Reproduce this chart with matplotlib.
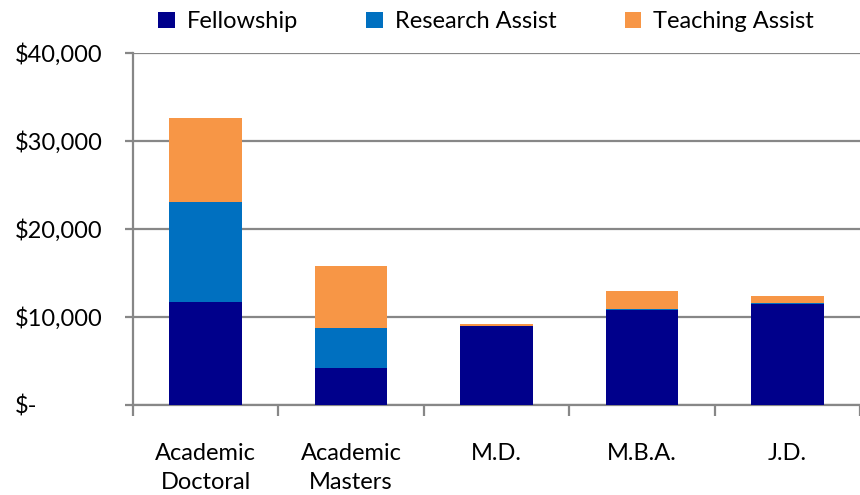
import numpy as np
import matplotlib
matplotlib.use("Agg")
import matplotlib.pyplot as plt
from matplotlib.ticker import FuncFormatter

categories = ["Academic\nDoctoral", "Academic\nMasters", "M.D.", "M.B.A.", "J.D."]
fellowship = [11700, 4200, 8940, 10770, 11450]
research_assist = [11350, 4500, 50, 190, 190]
teaching_assist = [9600, 7100, 260, 2050, 720]
series_names = ["Fellowship", "Research Assist", "Teaching Assist"]
colors = ["#00008B", "#0070C0", "#F79646"]
yticks = [0, 10000, 20000, 30000, 40000]

plt.rcParams['font.family'] = ['Lato', 'DejaVu Sans']

fig = plt.figure(figsize=(8.6, 4.95), dpi=100)
ax = fig.add_axes([133 / 860, 90 / 495, 727 / 860, 352 / 495])

x = np.arange(len(categories))
bottom = np.zeros(len(categories))
for name, vals, col in zip(series_names, [fellowship, research_assist, teaching_assist], colors):
    ax.bar(x, vals, width=0.5, bottom=bottom, color=col, label=name, zorder=3)
    bottom += np.array(vals)

ax.set_xlim(-0.5, 4.46)
ax.set_ylim(0, 40000)

grey = "#878787"
ax.set_yticks(yticks)
ax.yaxis.set_major_formatter(FuncFormatter(lambda v, p: "$-" if v == 0 else "${:,.0f}".format(v)))
ax.grid(axis="y", color=grey, linewidth=1.6, zorder=0)
ax.tick_params(axis="y", length=6, width=1.6, color=grey, pad=79, labelsize=17)
for lab in ax.get_yticklabels():
    lab.set_horizontalalignment("left")

ax.set_xticks(np.arange(-0.5, 5.0, 1.0))
ax.set_xticklabels([])
ax.tick_params(axis="x", which="major", length=8, width=1.6, color=grey)
ax.set_xticks(x, minor=True)
ax.set_xticklabels(categories, minor=True, fontsize=17, linespacing=1.5)
ax.tick_params(axis="x", which="minor", length=0, pad=27)

for s in ["top", "right"]:
    ax.spines[s].set_visible(False)
for s in ["left", "bottom"]:
    ax.spines[s].set_color(grey)
    ax.spines[s].set_linewidth(1.6)

fig.legend(loc="upper center", bbox_to_anchor=(0.565, 1.02), ncol=3, frameon=False,
           fontsize=17, handlelength=0.7, handleheight=0.7, handletextpad=0.5,
           columnspacing=2.9)

fig.savefig("out.png", dpi=100)
